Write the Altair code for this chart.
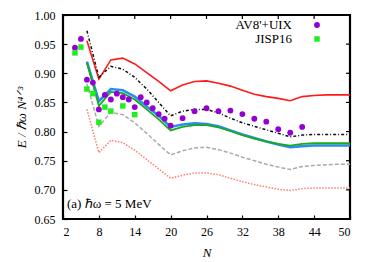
import altair as alt
import pandas as pd

FONT = "Liberation Serif"

# Even-N grid used by the six curves
N_line = list(range(6, 51, 2))
red_solid = [0.956, 0.890, 0.923, 0.926, 0.916, 0.901, 0.886, 0.870, 0.880, 0.886, 0.887, 0.883,
             0.878, 0.871, 0.864, 0.860, 0.857, 0.853, 0.860, 0.862, 0.863, 0.863, 0.863]
black_dashdot = [0.973, 0.893, 0.912, 0.907, 0.893, 0.873, 0.850, 0.827, 0.835, 0.838, 0.838, 0.832,
                 0.823, 0.815, 0.809, 0.803, 0.797, 0.791, 0.794, 0.795, 0.795, 0.795, 0.795]
blue_solid = [0.920, 0.852, 0.873, 0.871, 0.860, 0.843, 0.827, 0.808, 0.812, 0.814, 0.813, 0.809,
              0.802, 0.795, 0.789, 0.783, 0.778, 0.773, 0.775, 0.776, 0.776, 0.776, 0.776]
green_solid = [0.918, 0.844, 0.868, 0.866, 0.855, 0.838, 0.821, 0.802, 0.808, 0.811, 0.811, 0.807,
               0.801, 0.794, 0.788, 0.783, 0.779, 0.776, 0.779, 0.780, 0.780, 0.780, 0.780]
gray_dashed = [0.882, 0.809, 0.833, 0.829, 0.815, 0.797, 0.778, 0.760, 0.767, 0.772, 0.773, 0.769,
               0.763, 0.756, 0.750, 0.744, 0.739, 0.735, 0.740, 0.742, 0.743, 0.744, 0.744]
salmon_dotted = [0.838, 0.764, 0.785, 0.781, 0.768, 0.752, 0.736, 0.720, 0.725, 0.729, 0.729, 0.726,
                 0.720, 0.714, 0.709, 0.705, 0.701, 0.699, 0.702, 0.703, 0.703, 0.703, 0.703]

# AV8'+UIX points
N_av = list(range(4, 21)) + list(range(22, 43, 2))
E_av = [0.944, 0.959, 0.889, 0.884, 0.838, 0.863, 0.855, 0.865, 0.859, 0.855, 0.842, 0.859,
        0.850, 0.840, 0.830, 0.822, 0.810, 0.823, 0.835, 0.840, 0.835, 0.836, 0.830, 0.822,
        0.817, 0.804, 0.798, 0.808]

# JISP16 points
N_jisp = [4, 5, 6, 7, 8, 9, 10, 12, 14]
E_jisp = [0.935, 0.945, 0.873, 0.865, 0.816, 0.842, 0.835, 0.844, 0.829]

x_ticks = list(range(2, 51, 6))
y_ticks = [0.65, 0.70, 0.75, 0.80, 0.85, 0.90, 0.95, 1.00]

W, H = 287, 204
xscale = alt.Scale(domain=[2, 50], nice=False, zero=False)
yscale = alt.Scale(domain=[0.65, 1.0], nice=False, zero=False)

ax_common = dict(domain=False, grid=False, tickSize=4, offset=-4, tickColor="black",
                 tickWidth=1.2, labelFont=FONT, labelFontSize=12, labelColor="black",
                 titleFont=FONT, titleFontSize=13, titleColor="black", titleFontWeight=400)

x_bottom = alt.Axis(orient="bottom", values=x_ticks, format="d", labelPadding=7,
                    title="N", titleFontStyle="italic", titlePadding=9, **ax_common)
y_left = alt.Axis(orient="left", values=y_ticks, format=".2f", labelPadding=8,
                  title="E / ℏω N⁴ᐟ³", titleFontStyle="italic", titlePadding=6, **ax_common)


def enc():
    return dict(x=alt.X("N:Q", scale=xscale, axis=x_bottom), y=alt.Y("E:Q", scale=yscale, axis=y_left))


series = [
    (red_solid, "#ff1a1a", 1.6, None),
    (black_dashdot, "#111111", 1.5, [3, 2, 1, 2]),
    (blue_solid, "#2a8cf0", 2.6, None),
    (green_solid, "#1aab1a", 1.8, None),
    (gray_dashed, "#aaaaaa", 1.5, [4, 2]),
    (salmon_dotted, "#ff7b6b", 1.5, [1.5, 1.5]),
]

layers = []
for vals, col, w, dash in series:
    df = pd.DataFrame({"N": N_line, "E": vals})
    kw = dict(color=col, strokeWidth=w)
    if dash:
        kw["strokeDash"] = dash
    layers.append(alt.Chart(df).mark_line(**kw).encode(**enc()))

# mirrored inward ticks on the top and right frame edges
layers.append(alt.Chart(pd.DataFrame({"N": x_ticks})).mark_rule(color="black", strokeWidth=1.2)
              .encode(x=alt.X("N:Q", scale=xscale, axis=x_bottom), y=alt.value(0), y2=alt.value(4)))
layers.append(alt.Chart(pd.DataFrame({"E": y_ticks})).mark_rule(color="black", strokeWidth=1.2)
              .encode(y=alt.Y("E:Q", scale=yscale, axis=y_left), x=alt.value(W - 4), x2=alt.value(W)))

df_av = pd.DataFrame({"N": N_av, "E": E_av})
df_j = pd.DataFrame({"N": N_jisp, "E": E_jisp})
layers.append(alt.Chart(df_av).mark_point(shape="circle", filled=True, size=34, color="#9400d3", opacity=1)
              .encode(**enc()))
layers.append(alt.Chart(df_j).mark_point(shape="square", filled=True, size=30, color="#1ef01e", opacity=1)
              .encode(**enc()))

one = pd.DataFrame({"a": [0]})
legend_labels = ["AV8'+UIX", "JISP16"]
legend_y = [10, 24]
txt = alt.Chart(one).mark_text(font=FONT, fontSize=13, align="right", baseline="middle", color="black")
layers.append(txt.encode(x=alt.value(229), y=alt.value(legend_y[0]), text=alt.value(legend_labels[0])))
layers.append(txt.encode(x=alt.value(229), y=alt.value(legend_y[1]), text=alt.value(legend_labels[1])))
layers.append(alt.Chart(one).mark_point(shape="circle", filled=True, size=34, color="#9400d3", opacity=1)
              .encode(x=alt.value(254), y=alt.value(legend_y[0])))
layers.append(alt.Chart(one).mark_point(shape="square", filled=True, size=30, color="#1ef01e", opacity=1)
              .encode(x=alt.value(254), y=alt.value(legend_y[1])))
layers.append(alt.Chart(one).mark_text(font=FONT, fontSize=13, align="left", baseline="middle", color="black")
              .encode(x=alt.value(4), y=alt.value(189), text=alt.value("(a) ℏω = 5 MeV")))

chart = alt.layer(*layers).properties(
    width=W, height=H,
    autosize=alt.AutoSizeParams(type="none"),
    padding={"left": 55, "top": 7, "right": 16, "bottom": 40},
).configure_view(stroke="black", strokeWidth=2.2).configure_axis(
    titleFontWeight=400, labelFont=FONT, titleFont=FONT
)

chart.save("out.html", embed_options={"renderer": "svg", "actions": False})
